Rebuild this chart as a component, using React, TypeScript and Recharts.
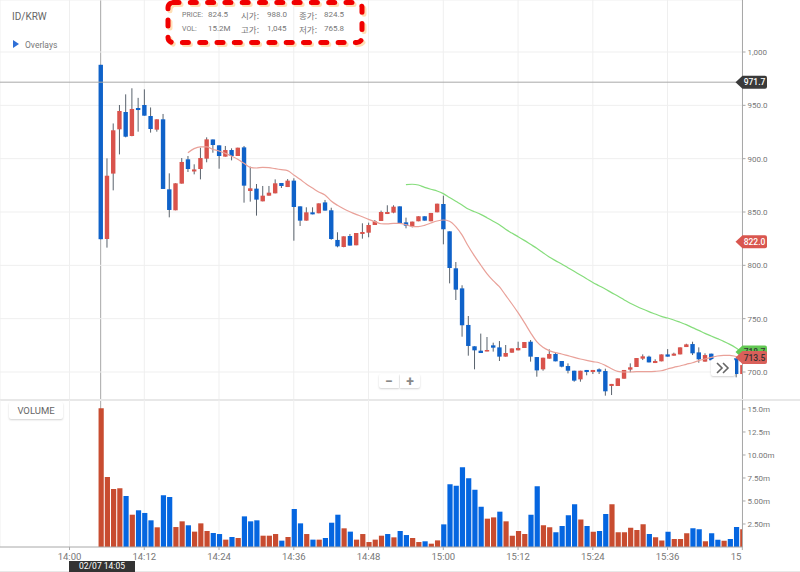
import React from "react";
import { ComposedChart, Bar, Line, XAxis, YAxis, CartesianGrid, ReferenceLine, ReferenceDot, Cell } from "recharts";

const FIRST_MINUTE = 5;
const CROSSHAIR_MINUTE = 5;
const CROSSHAIR_PRICE = 971.7;
const RED_LINE_START = 19;
const GREEN_LINE_START = 54;
const X_DOMAIN: [number, number] = [-11.16, 108.03];
const PRICE_DOMAIN: [number, number] = [673.75, 1048.75];
const VOLUME_DOMAIN: [number, number] = [0, 15.978];
const X_TICKS = [0, 12, 24, 36, 48, 60, 72, 84, 96, 108];
const X_LABELS = ["14:00", "14:12", "14:24", "14:36", "14:48", "15:00", "15:12", "15:24", "15:36", "15"];
const PRICE_TICKS = [700, 750, 800, 850, 900, 950, 1000];
const VOLUME_TICKS = [2.5, 5, 7.5, 10, 12.5, 15];
const VOLUME_LABELS = ["2.50m", "5.00m", "7.50m", "10.00m", "12.5m", "15.0m"];

const opens = [
  988, 824.7, 886, 927.5, 943.75, 921.25, 947.5, 950.3, 940, 927.2,
  936.9, 871.25, 851.6, 876.6, 899.4, 888, 890.3, 900, 918, 912.5,
  901.9, 908.1, 902.5, 910.6, 869.7, 871.9, 860, 865.3, 867.5, 877.2,
  873.4, 879.4, 855.3, 841.9, 849.7, 848.8, 859, 851.6, 823.8, 817.2,
  827.5, 818.8, 829.4, 830.6, 837.8, 841.6, 848.1, 849.4, 855.3, 840.3,
  836.6, 841.3, 846, 841.3, 849.7, 857.5, 831.9, 797.2, 778.4, 744.1,
  724.1, 720, 719.4, 725, 723.1, 714.4, 718.1, 720.3, 722.5, 728.4,
  714, 702.5, 712.5, 716.9, 710.3, 705.6, 701.2, 693.1, 701.9, 700,
  702.5, 700.9, 686.9, 686.9, 693.7, 702.2, 704.7, 712.5, 714.4, 708.4,
  710, 716.5, 715.3, 716.5, 723.4, 726.2, 718.4, 709.7, 717.2, 712,
  704, 708, 712.8, 698.1,
];
const highs = [
  988, 900.3, 933, 950.3, 960.3, 966, 957, 965, 948, 936.9,
  941.9, 886.25, 876.9, 900.6, 902.5, 894.7, 910.3, 920, 918, 912.5,
  911.9, 909.7, 910.3, 911.9, 892.5, 876.25, 874.4, 874.4, 880.6, 877.2,
  880.9, 881.6, 855.3, 854.4, 854.4, 858.1, 861.3, 854, 831, 827.2,
  829.4, 830.3, 839.4, 840, 842.5, 851.3, 856.3, 856.3, 855.3, 844.7,
  841, 846, 846, 849.1, 857.8, 865.3, 831.9, 803.1, 781.3, 752.5,
  724.1, 736, 732.8, 727.5, 729, 725.3, 722.1, 728.4, 728.1, 730,
  714, 713.4, 721.2, 718.7, 710.3, 708.1, 701.2, 701.2, 701.9, 701.9,
  703.4, 703.1, 688.8, 694, 701.9, 708.1, 713.1, 716.5, 715.3, 711.9,
  716.5, 721.5, 718.1, 723.1, 726.5, 728.4, 723.1, 717.5, 717.2, 712,
  708, 708, 712.8, 706.5,
];
const lows = [
  824.5, 816.6, 870.3, 904, 920, 921, 925.3, 940.3, 924.4, 925.3,
  871.6, 845, 851.6, 876.6, 887.5, 885.3, 880.6, 896.6, 905.6, 890.6,
  901.9, 898.4, 902.5, 858.75, 859.7, 846.6, 860, 865.3, 867.5, 872.5,
  873.4, 823.1, 836.9, 841.9, 847.8, 848.8, 851.3, 824, 816.9, 816.9,
  818.5, 818.8, 825, 826.3, 837.8, 841.6, 848.1, 848.8, 839.4, 834.7,
  835.6, 841.3, 841.9, 841.3, 849.7, 819.7, 783.1, 767.5, 733.1, 715.3,
  702.5, 717.8, 719.4, 719.1, 710.3, 714.4, 718.1, 720.3, 722.5, 709.7,
  695.6, 701.2, 712.5, 710, 704.4, 698.7, 690.9, 690.9, 696.9, 698.1,
  698.1, 677.8, 678.4, 686.9, 693.7, 699.7, 704.7, 711.2, 709, 708.4,
  710, 714.4, 715.3, 716.5, 723.4, 715.9, 708.7, 709.7, 711, 705,
  704, 702, 695, 698.1,
];
const closes = [
  824.5, 884, 926.6, 944.7, 920.6, 946.6, 945.6, 940.3, 927.8, 936.9,
  871.6, 851.9, 876.9, 896.9, 890.3, 889.9, 900.6, 918.1, 912.8, 902.5,
  908.1, 902.5, 910.3, 874.7, 872.2, 861.6, 865.3, 868.1, 876.9, 874.4,
  879.4, 854.7, 841.9, 849.7, 847.8, 858.1, 851.3, 824.7, 817.8, 827.2,
  818.5, 830.3, 831.25, 837.8, 841.3, 850, 850, 855, 839.4, 837.2,
  841, 846, 841.9, 849.1, 857.8, 833.8, 797.5, 777.2, 743.8, 724.4,
  720.3, 717.8, 720.6, 722.8, 714.4, 717.8, 722.1, 722.5, 728.1, 714.4,
  701.5, 713.4, 716.9, 710, 705, 701.2, 691.9, 701.2, 700, 701.9,
  700.3, 681.9, 688.8, 694, 701.9, 704.4, 713.1, 714.7, 709, 710.3,
  716.5, 714.4, 717.2, 723.1, 725.9, 717.5, 711.9, 715.9, 711, 705,
  708, 702, 698.1, 706.5,
];
const redLine = [
  905.6, 909.4, 911, 911, 908.8, 907.2, 905, 902.5, 899.4, 895.6,
  891.9, 891.25, 891.9, 891.6, 890.6, 889.7, 888.75, 884.7, 880.6, 876.25,
  872.5, 868.75, 866, 860.3, 856.3, 853.1, 850.3, 847.8, 845.6, 843.1,
  841, 839, 838.8, 839.4, 839.4, 838.1, 836.3, 836.3, 837.5, 839.7,
  841.6, 842.5, 841.3, 836.3, 828.5, 818.1, 808.8, 800.3, 792.2, 785.6,
  780, 772, 764, 755.6, 746.5, 736.9, 728.4, 723.1, 720, 718.1,
  716.9, 715.3, 713.7, 712.2, 710.9, 709.7, 708.7, 706.2, 703.1, 700.6,
  700, 700, 700.3, 700.3, 700.3, 700.6, 701.2, 702.8, 704.4, 705.6,
  707.2, 708.7, 710.6, 712.2, 713.7, 715, 715.6, 715.6, 714.5, 713.5,
];
const greenLine = [
  875.6, 876, 875.3, 873.1, 871.3, 869.7, 867.2, 863.5, 860, 856.6,
  852.8, 850.3, 847.8, 844.7, 841.3, 838.1, 833.75, 830.3, 826.9, 823.4,
  819.7, 816, 811.9, 807.8, 804.4, 801.25, 797.8, 794.4, 790.9, 787.5,
  784, 780.9, 777.8, 774.4, 771.25, 767.8, 764.4, 761.6, 759, 756.6,
  754.4, 752.2, 750.6, 748.75, 746.6, 744.4, 741.6, 739, 736.25, 733.75,
  731.25, 728.75, 725.9, 722.5, 718.7,
];
const volumes = [
  15.07, 7.6, 6.3, 6.38, 5.54, 3.51, 3.99, 3.7, 2.9, 2.14,
  5.62, 5.43, 2.17, 2.79, 2.36, 1.67, 2.57, 1.74, 1.52, 1.41,
  0.8, 1.09, 0.98, 3.33, 2.79, 2.9, 1.23, 1.23, 1.41, 0.69,
  1.09, 4.13, 2.57, 1.41, 0.8, 0.8, 0.98, 2.64, 3.51, 2.03,
  1.67, 0.8, 1.41, 0.54, 0.8, 1.23, 1.41, 1.05, 1.74, 1.3,
  0.98, 0.54, 0.62, 0.36, 0.72, 2.46, 6.81, 6.67, 8.66, 7.46,
  6.23, 4.38, 3.08, 3.22, 3.84, 2.79, 1.23, 1.74, 1.41, 3.51,
  6.59, 2.36, 2.14, 1.59, 2.28, 3.44, 4.64, 3, 2.28, 1.67,
  1.74, 3.59, 4.64, 1.59, 1.59, 2.1, 1.85, 2.46, 1.41, 1.05,
  0.72, 1.67, 0.87, 0.87, 1.49, 2.03, 1.92, 0.62, 1.49, 0.8,
  0.69, 0.87, 2.17, 1.92,
];
const volumeSides = (
  "rrrrb rbbbr bbrrb rrrbb rbrbb brrrb rbbrb rbbbr brrrr rbrbb rrbrr bbbbb bbrrb rrrrb brrbb bbrbr bbrrr rrrbr rbrrr bbrbb rbbr"
).replace(/ /g, "");

const BLUE = "#0f62c9";
const RED = "#d9534c";
const VOL_BLUE = "#0566e0";
const VOL_RED = "#c84c30";
const GRID = "#efefef";
const AXIS = "#a8a8a8";
const TEXT = "#777777";
const FONT = "Roboto, sans-serif";

const rows = opens.map((open, k) => {
  const minute = FIRST_MINUTE + k;
  const redIdx = minute - RED_LINE_START;
  const greenIdx = minute - GREEN_LINE_START;
  return {
    minute,
    open,
    close: closes[k],
    high: highs[k],
    low: lows[k],
    range: [lows[k], highs[k]] as [number, number],
    red: redIdx >= 0 ? redLine[redIdx] : null,
    green: greenIdx >= 0 ? greenLine[greenIdx] : null,
    volume: volumes[k],
    side: volumeSides[k],
  };
});

function Candle(props: any) {
  const { x, y, width, height, payload } = props;
  const span = payload.high - payload.low;
  const unit = span > 0 ? height / span : 0;
  const top = y + (payload.high - Math.max(payload.open, payload.close)) * unit;
  const bottom = y + (payload.high - Math.min(payload.open, payload.close)) * unit;
  const up = payload.close >= payload.open;
  const mid = x + width / 2;
  return (
    <g>
      <line x1={mid} x2={mid} y1={y} y2={y + height} stroke="#5a636d" strokeWidth={1} />
      <rect x={x} y={top} width={width} height={Math.max(bottom - top, 1.5)} fill={up ? RED : BLUE} />
    </g>
  );
}

function priceTag(label: string, fill: string, color: string) {
  return (props: any) => {
    const { cx, cy } = props;
    const h = 6.5;
    const l = cx - 7;
    const b = cx;
    const r = cx + 24.5;
    return (
      <g>
        <path
          d={`M${l} ${cy} L${b} ${cy - h} L${r - 2} ${cy - h} Q${r} ${cy - h} ${r} ${cy - h + 2} L${r} ${cy + h - 2} Q${r} ${cy + h} ${r - 2} ${cy + h} L${b} ${cy + h} Z`}
          fill={fill}
        />
        <text x={cx + 12} y={cy + 3} textAnchor="middle" fontSize={8.5} fontWeight={500} fontFamily={FONT} fill={color}>
          {label}
        </text>
      </g>
    );
  };
}

function TimeTick(props: any) {
  const { x, y, payload } = props;
  const idx = X_TICKS.indexOf(payload.value);
  const last = idx === X_TICKS.length - 1;
  return (
    <text x={last ? x - 1 : x} y={y + 8} textAnchor={last ? "end" : "middle"} fontSize={9.5} fontFamily={FONT} fill={TEXT}>
      {X_LABELS[idx]}
    </text>
  );
}

const cell: React.CSSProperties = { position: "absolute", fontFamily: FONT, color: "#777", whiteSpace: "nowrap", lineHeight: "10px" };

function Info({ x, y, size = 8, cjk = false, children }: any) {
  return (
    <div style={{ ...cell, left: x, top: y, fontSize: cjk ? 8.5 : size, fontFamily: cjk ? "'Noto Sans CJK KR', sans-serif" : FONT }}>{children}</div>
  );
}

function Chip({ left, top, width, height, children, style }: any) {
  return (
    <div
      style={{
        position: "absolute", left, top, width, height, background: "#fff",
        boxShadow: "0 1px 2px rgba(0,0,0,0.18)", borderRadius: 2, display: "flex",
        alignItems: "center", justifyContent: "center", fontFamily: FONT, color: "#666", ...style,
      }}
    >
      {children}
    </div>
  );
}

export default function App() {
  return (
    <div style={{ position: "absolute", left: 0, top: 0, width: 800, height: 572, background: "#fff", overflow: "hidden" }}>
      <div style={{ position: "absolute", left: 0, top: 0 }}>
        <ComposedChart width={800} height={547} data={rows} margin={{ top: 0, right: 0, bottom: 0, left: 0 }}>
          <XAxis dataKey="minute" type="number" domain={X_DOMAIN} ticks={X_TICKS} allowDataOverflow hide />
          <YAxis orientation="right" width={57.5} domain={PRICE_DOMAIN} tick={false} axisLine={false} tickLine={false} />
          <Line dataKey="red" stroke="none" dot={false} isAnimationActive={false} />
          <ReferenceLine x={CROSSHAIR_MINUTE} stroke={AXIS} strokeWidth={1} ifOverflow="visible" />
        </ComposedChart>
      </div>
      <div style={{ position: "absolute", left: 0, top: 0 }}>
        <ComposedChart width={800} height={400} data={rows} margin={{ top: 0, right: 0, bottom: 0, left: 0 }}>
          <CartesianGrid stroke={GRID} />
          <XAxis dataKey="minute" type="number" domain={X_DOMAIN} ticks={X_TICKS} allowDataOverflow hide />
          <YAxis
            orientation="right"
            width={57.5}
            domain={PRICE_DOMAIN}
            ticks={PRICE_TICKS}
            allowDataOverflow
            interval={0}
            tickSize={3}
            tickMargin={2}
            stroke={AXIS}
            tick={{ fontSize: 8, fill: TEXT, fontFamily: FONT }}
            tickFormatter={(v: number) => (v === 1000 ? "1,000" : v.toFixed(1))}
          />
          <Bar dataKey="range" barSize={4.4} shape={Candle} isAnimationActive={false} />
          <Line dataKey="red" stroke="#e9a199" strokeWidth={1.2} dot={false} type="monotone" isAnimationActive={false} />
          <Line dataKey="green" stroke="#86dd7c" strokeWidth={1.2} dot={false} type="monotone" isAnimationActive={false} />
          <ReferenceLine y={CROSSHAIR_PRICE} stroke={AXIS} strokeWidth={1} />
          <ReferenceDot x={X_DOMAIN[1]} y={CROSSHAIR_PRICE} ifOverflow="visible" shape={priceTag("971.7", "#3a3a3a", "#fff")} />
          <ReferenceDot x={X_DOMAIN[1]} y={822} ifOverflow="visible" shape={priceTag("822.0", "#d9564f", "#fff")} />
          <ReferenceDot x={X_DOMAIN[1]} y={718.7} ifOverflow="visible" shape={priceTag("718.7", "#62c853", "#333")} />
          <ReferenceDot x={X_DOMAIN[1]} y={713.5} ifOverflow="visible" shape={priceTag("713.5", "#d9605a", "#333")} />
        </ComposedChart>
      </div>
      <div style={{ position: "absolute", left: 0, top: 399, width: 800, height: 2, background: "#e8e8e8" }} />
      <div style={{ position: "absolute", left: 0, top: 400 }}>
        <ComposedChart width={800} height={172} data={rows} margin={{ top: 0, right: 0, bottom: 0, left: 0 }}>
          <CartesianGrid stroke={GRID} horizontal={false} />
          <XAxis
            dataKey="minute"
            type="number"
            domain={X_DOMAIN}
            ticks={X_TICKS}
            allowDataOverflow
            interval={0}
            height={25}
            tickSize={3}
            stroke={AXIS}
            tick={TimeTick}
          />
          <YAxis
            orientation="right"
            width={57.5}
            domain={VOLUME_DOMAIN}
            ticks={VOLUME_TICKS}
            allowDataOverflow
            interval={0}
            tickSize={3}
            tickMargin={2}
            stroke={AXIS}
            tick={{ fontSize: 8, fill: TEXT, fontFamily: FONT }}
            tickFormatter={(v: number) => VOLUME_LABELS[VOLUME_TICKS.indexOf(v)]}
          />
          <Bar dataKey="volume" barSize={5.2} isAnimationActive={false}>
            {rows.map((row) => (
              <Cell key={row.minute} fill={row.side === "r" ? VOL_RED : VOL_BLUE} />
            ))}
          </Bar>
        </ComposedChart>
      </div>
      <div style={{ position: "absolute", left: 0, top: 571, width: 800, height: 1, background: "#e8e8e8" }} />

      <div style={{ ...cell, left: 12, top: 12, fontSize: 10, color: "#666" }}>ID/KRW</div>
      <svg style={{ position: "absolute", left: 13, top: 40 }} width={7} height={8}>
        <polygon points="0,0 6,4 0,8" fill="#2f6fd6" />
      </svg>
      <div style={{ ...cell, left: 25, top: 40, fontSize: 8.5 }}>Overlays</div>

      <svg style={{ position: "absolute", left: 0, top: 0 }} width={380} height={52}>
        <rect x={170} y={4.5} width={194} height={40} rx={5} fill="none" stroke="#ffdfb5" strokeWidth={5} strokeDasharray="6 11.3" strokeLinecap="round" />
        <rect x={168} y={2.5} width={194} height={40} rx={5} fill="none" stroke="#f00000" strokeWidth={5} strokeDasharray="6 11.3" strokeLinecap="round" />
      </svg>
      <Info x={182} y={10} size={7}>PRICE:</Info>
      <Info x={208} y={10}>824.5</Info>
      <Info x={241} y={10} cjk>시가:</Info>
      <Info x={267} y={10}>988.0</Info>
      <Info x={299} y={10} cjk>종가:</Info>
      <Info x={324} y={10}>824.5</Info>
      <Info x={182} y={24} size={7}>VOL:</Info>
      <Info x={208} y={24}>15.2M</Info>
      <Info x={241} y={24} cjk>고가:</Info>
      <Info x={267} y={24}>1,045</Info>
      <Info x={299} y={24} cjk>저가:</Info>
      <Info x={324} y={24}>765.8</Info>

      <Chip left={379} top={374} width={20} height={14} style={{ fontSize: 14, fontWeight: 700, color: "#888", borderRadius: "2px 0 0 2px" }}>−</Chip>
      <Chip left={400} top={374} width={20} height={14} style={{ fontSize: 14, fontWeight: 700, color: "#888", borderRadius: "0 2px 2px 0" }}>+</Chip>
      <Chip left={711} top={359} width={24} height={17}>
        <svg width={14} height={12}>
          <polyline points="1,1 6,6 1,11" fill="none" stroke="#666" strokeWidth={1.6} />
          <polyline points="7,1 12,6 7,11" fill="none" stroke="#666" strokeWidth={1.6} />
        </svg>
      </Chip>
      <Chip left={9} top={402} width={54} height={17} style={{ fontSize: 9.5 }}>VOLUME</Chip>
      <div
        style={{
          position: "absolute", left: 69, top: 561, width: 66, height: 11, background: "#333", color: "#fff",
          fontFamily: FONT, fontSize: 8.5, lineHeight: "11px", textAlign: "center",
        }}
      >
        02/07 14:05
      </div>
    </div>
  );
}
